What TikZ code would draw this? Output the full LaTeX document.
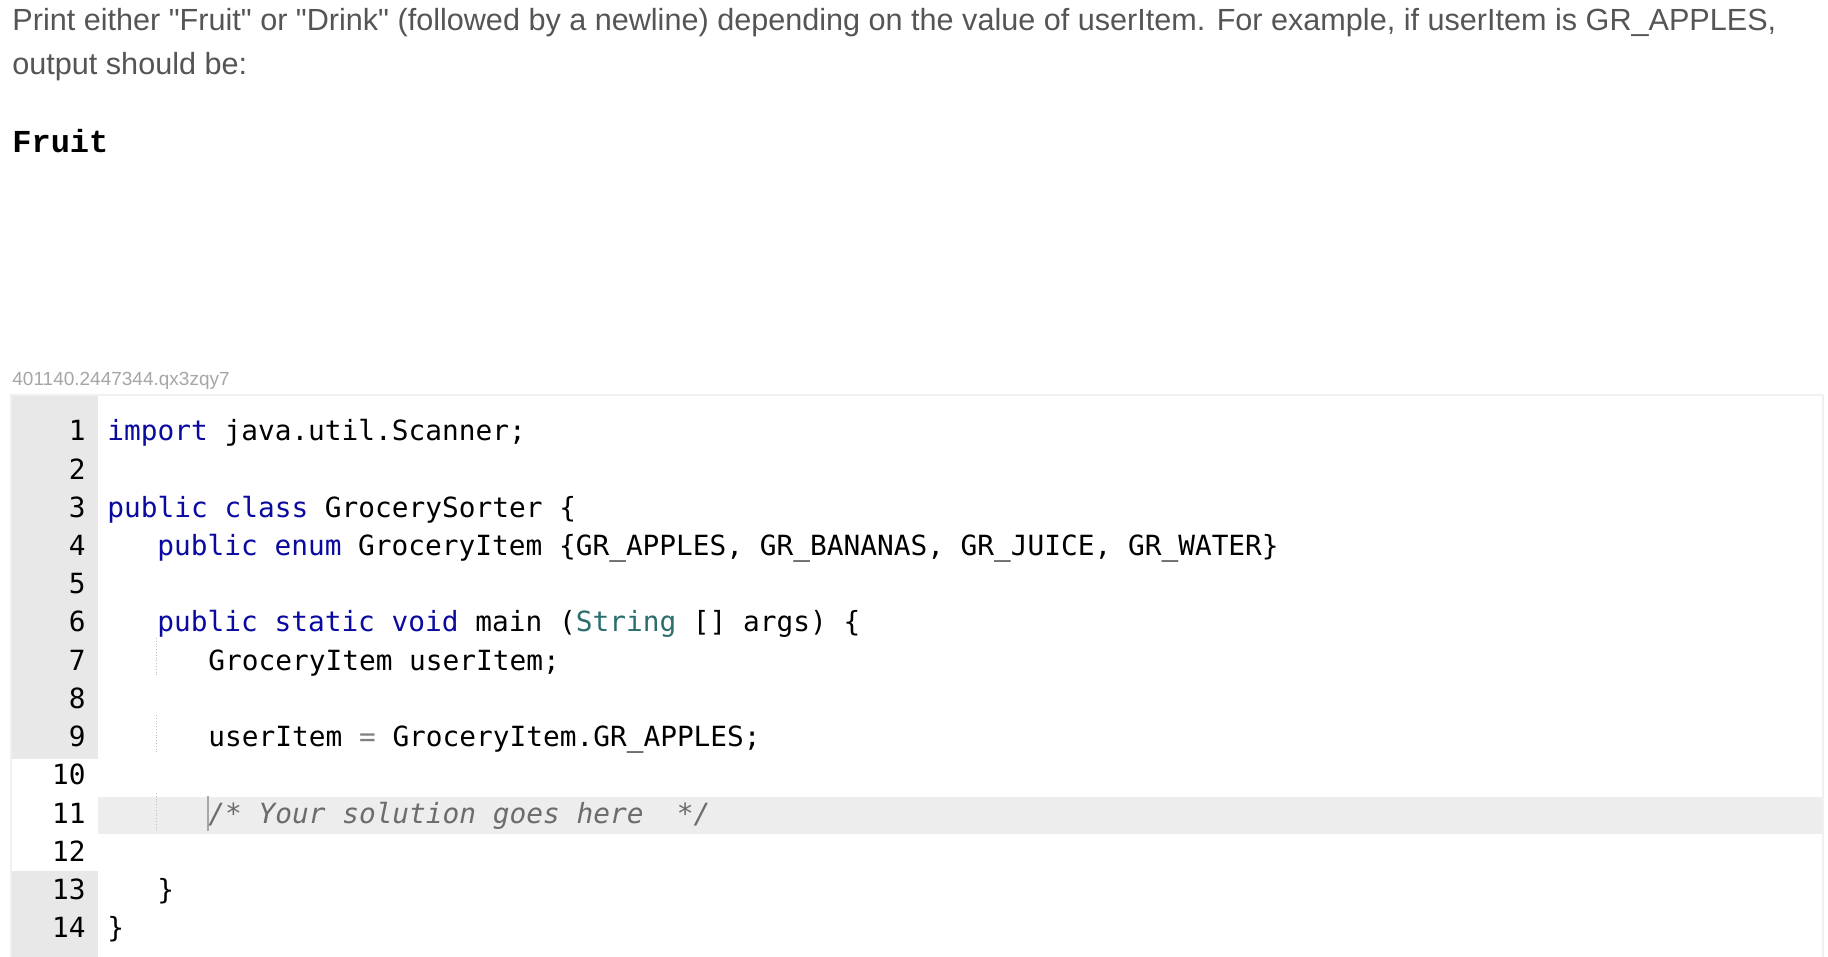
\documentclass[tikz,border=0pt]{standalone}
\usepackage{fontspec}
\setmainfont{Liberation Sans}
\setmonofont{DejaVu Sans Mono}
\newfontfamily\outfont{Liberation Mono}
\usetikzlibrary{positioning}

\definecolor{kwblue}{HTML}{0A0AA0}
\definecolor{typeteal}{HTML}{2B6E6E}
\definecolor{gutter}{HTML}{E8E8E8}
\definecolor{hiline}{HTML}{EDEDED}
\definecolor{prose}{HTML}{555555}

\newcommand{\kw}[1]{\textcolor{kwblue}{#1}}

\begin{document}
\begin{tikzpicture}[x=0.5pt, y={(0,-0.5pt)},
  prose/.style={anchor=base west, inner sep=0, text=prose, font=\fontsize{15.3}{18}\selectfont},
  code/.style={anchor=base west, inner sep=0, font=\ttfamily\fontsize{13.9}{16}\selectfont},
  lineno/.style={anchor=base east, inner sep=0, font=\ttfamily\fontsize{13.9}{16}\selectfont}]
\useasboundingbox[fill=white] (0,0) rectangle (1828,957);

%------------------ TASK TEXT ------------------%
\node[prose] (task1) at (12,31) {Print either \textquotedbl Fruit\textquotedbl{} or \textquotedbl Drink\textquotedbl{} (followed by a newline) depending on the value of userItem. For example, if userItem is GR\_APPLES,};
\node[prose] (task2) at (12,75) {output should be:};
\node[anchor=base west, inner sep=0, font=\outfont\bfseries\fontsize{16}{18}\selectfont] (out) at (12,153) {Fruit};
\node[anchor=base west, inner sep=0, text=gray!70, font=\fontsize{9.5}{11}\selectfont] (id) at (12,386) {401140.2447344.qx3zqy7};

%------------------ EDITOR ------------------%
\fill[gray!12] (10,394) rectangle (1824,957);
\fill[white] (12,396) rectangle (1822,957);
\fill[gutter] (12,396) rectangle (98,759);
\fill[gutter] (12,871) rectangle (98,957);
\fill[hiline] (98,797) rectangle (1822,834);

\foreach \n in {1,...,14}
  \node[lineno] (ln\n) at (86,{441+38.2*(\n-1)}) {\n};

\draw[gray!50, densely dotted] (156,638) -- (156,677);
\draw[gray!50, densely dotted] (156,715) -- (156,753);
\draw[gray!50, densely dotted] (156,793) -- (156,831);
\draw[gray!70, thick] (208,796) -- (208,831);

\node[code] (c1)  at (107,441)   {\kw{import} java.util.Scanner;};
\node[code] (c3)  at (107,517.4) {\kw{public} \kw{class} GrocerySorter \{};
\node[code] (c4)  at (157,555.6) {\kw{public} \kw{enum} GroceryItem \{GR\_APPLES, GR\_BANANAS, GR\_JUICE, GR\_WATER\}};
\node[code] (c6)  at (157,632)   {\kw{public} \kw{static} \kw{void} main (\textcolor{typeteal}{String} [] args) \{};
\node[code] (c7)  at (208,670.2) {GroceryItem userItem;};
\node[code] (c9)  at (208,746.6) {userItem \textcolor{gray}{=} GroceryItem.GR\_APPLES;};
\node[code, text=gray!85!black] (c11) at (208,823) {\itshape/* Your solution goes here~~*/};
\node[code] (c13) at (157,899.4) {\}};
\node[code] (c14) at (107,937.6) {\}};
\end{tikzpicture}
\end{document}
